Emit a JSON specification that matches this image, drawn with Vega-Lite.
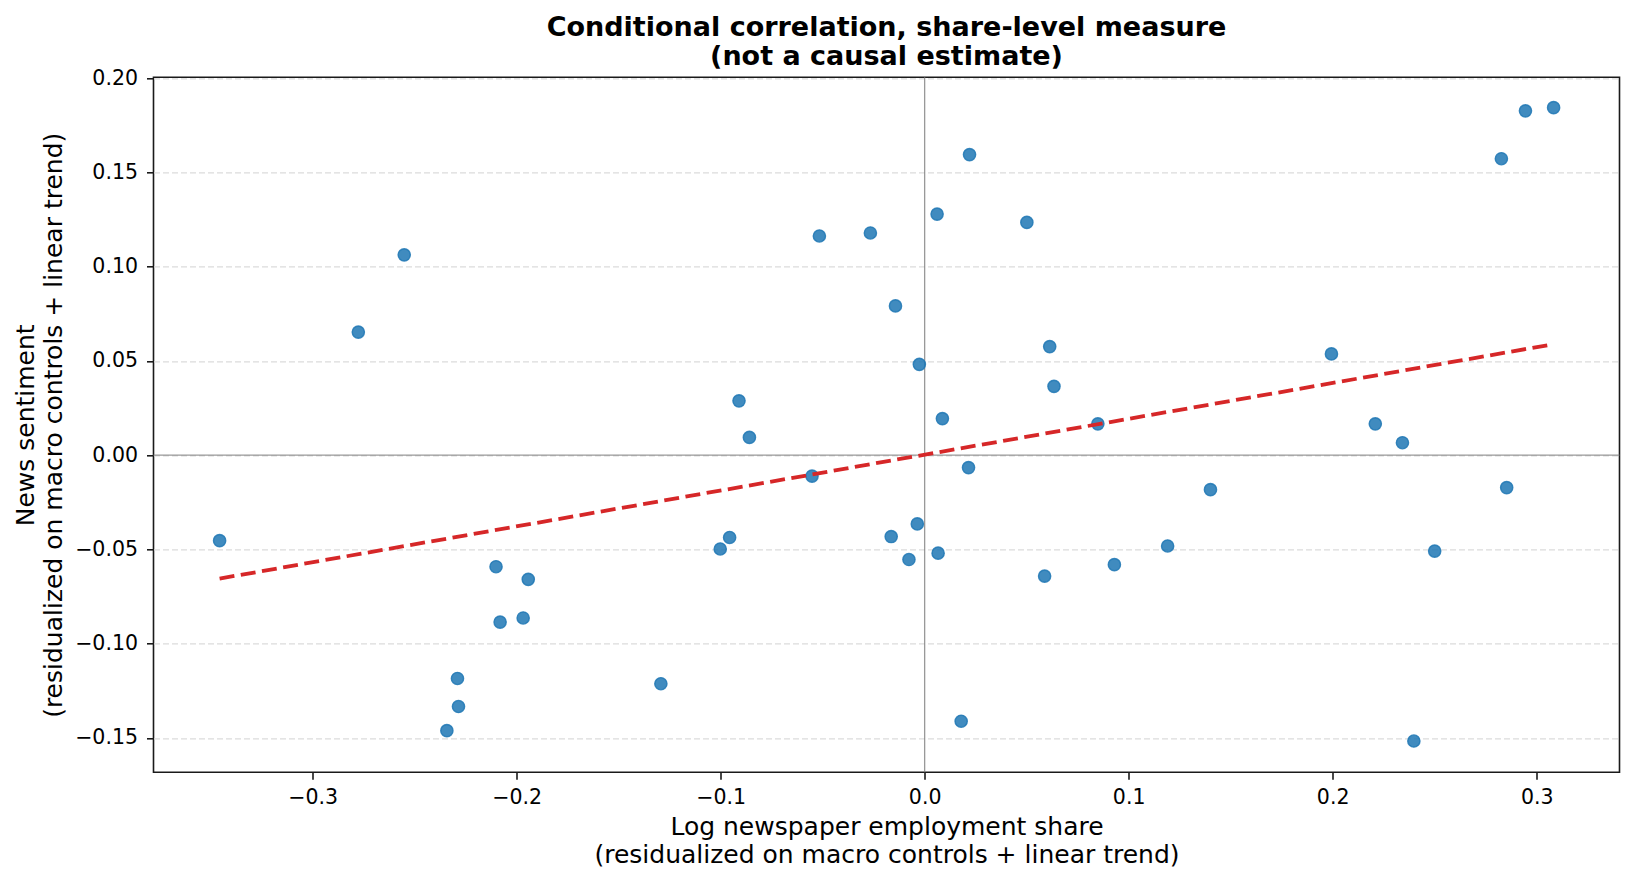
{
  "$schema": "https://vega.github.io/schema/vega-lite/v6.json",
  "width": 1466,
  "height": 695,
  "autosize": {"type": "none"},
  "padding": {"left": 153.5, "top": 77.3, "right": 13.5, "bottom": 109.7},
  "background": "white",
  "title": {
    "text": ["Conditional correlation, share-level measure", "(not a causal estimate)"],
    "font": "DejaVu Sans",
    "fontSize": 27,
    "fontWeight": "bold",
    "color": "black",
    "anchor": "middle",
    "baseline": "top",
    "lineHeight": 29,
    "offset": 1,
    "dy": 4
  },
  "datasets": {
    "points": [
      {"x": -0.3456, "y": -0.0454},
      {"x": -0.2776, "y": 0.0653},
      {"x": -0.2551, "y": 0.1063},
      {"x": -0.2342, "y": -0.1462},
      {"x": -0.2290, "y": -0.1185},
      {"x": -0.2285, "y": -0.1334},
      {"x": -0.2101, "y": -0.0592},
      {"x": -0.2081, "y": -0.0886},
      {"x": -0.1968, "y": -0.0864},
      {"x": -0.1943, "y": -0.0659},
      {"x": -0.1293, "y": -0.1213},
      {"x": -0.1002, "y": -0.0498},
      {"x": -0.0956, "y": -0.0437},
      {"x": -0.0910, "y": 0.0288},
      {"x": -0.0859, "y": 0.0094},
      {"x": -0.0552, "y": -0.0111},
      {"x": -0.0516, "y": 0.1163},
      {"x": -0.0266, "y": 0.1179},
      {"x": -0.0164, "y": -0.0432},
      {"x": -0.0143, "y": 0.0792},
      {"x": -0.0077, "y": -0.0554},
      {"x": -0.0036, "y": -0.0365},
      {"x": -0.0026, "y": 0.0482},
      {"x": 0.0061, "y": 0.1279},
      {"x": 0.0066, "y": -0.0520},
      {"x": 0.0087, "y": 0.0194},
      {"x": 0.0179, "y": -0.1412},
      {"x": 0.0215, "y": -0.0066},
      {"x": 0.0220, "y": 0.1595},
      {"x": 0.0501, "y": 0.1235},
      {"x": 0.0588, "y": -0.0642},
      {"x": 0.0613, "y": 0.0576},
      {"x": 0.0634, "y": 0.0365},
      {"x": 0.0849, "y": 0.0166},
      {"x": 0.0930, "y": -0.0581},
      {"x": 0.1191, "y": -0.0482},
      {"x": 0.1401, "y": -0.0183},
      {"x": 0.1994, "y": 0.0537},
      {"x": 0.2209, "y": 0.0166},
      {"x": 0.2342, "y": 0.0066},
      {"x": 0.2398, "y": -0.1517},
      {"x": 0.2500, "y": -0.0509},
      {"x": 0.2827, "y": 0.1573},
      {"x": 0.2853, "y": -0.0172},
      {"x": 0.2945, "y": 0.1827},
      {"x": 0.3083, "y": 0.1844}
    ],
    "fit": [
      {"x": -0.3456, "y": -0.0655},
      {"x": 0.3083, "y": 0.0589}
    ],
    "zero": [
      {"v": 0}
    ]
  },
  "layer": [
    {
      "data": {"name": "zero"},
      "mark": {"type": "rule", "color": "#808080", "strokeWidth": 1.3, "opacity": 0.8},
      "encoding": {
        "x": {"field": "v", "type": "quantitative", "scale": {"domain": [-0.378, 0.3406], "nice": false, "zero": false}}
      }
    },
    {
      "data": {"name": "zero"},
      "mark": {"type": "rule", "color": "#808080", "strokeWidth": 1.3, "opacity": 0.8},
      "encoding": {
        "y": {"field": "v", "type": "quantitative", "scale": {"domain": [-0.1683, 0.2005], "nice": false, "zero": false}}
      }
    },
    {
      "data": {"name": "points"},
      "mark": {
        "type": "circle",
        "size": 150,
        "fill": "#1f77b4",
        "fillOpacity": 0.85,
        "stroke": "#1f77b4",
        "strokeOpacity": 0.85,
        "strokeWidth": 1.4
      },
      "encoding": {
        "x": {
          "field": "x",
          "type": "quantitative",
          "scale": {"domain": [-0.378, 0.3406], "nice": false, "zero": false},
          "axis": {
            "title": ["Log newspaper employment share", "(residualized on macro controls + linear trend)"],
            "values": [-0.3, -0.2, -0.1, 0, 0.1, 0.2, 0.3],
            "format": ".1f",
            "grid": false,
            "labelPadding": 8,
            "titleBaseline": "top",
            "titleX": 733,
            "titleY": 42,
            "titleLineHeight": 28
          }
        },
        "y": {
          "field": "y",
          "type": "quantitative",
          "scale": {"domain": [-0.1683, 0.2005], "nice": false, "zero": false},
          "axis": {
            "title": ["News sentiment", "(residualized on macro controls + linear trend)"],
            "values": [-0.15, -0.1, -0.05, 0, 0.05, 0.1, 0.15, 0.2],
            "format": ".2f",
            "grid": true,
            "gridDash": [6, 3],
            "gridColor": "#dcdcdc",
            "gridWidth": 1.3,
            "labelPadding": 9,
            "titleAngle": -90,
            "titleBaseline": "top",
            "titleAlign": "center",
            "titleX": -140,
            "titleY": 347.5,
            "titleLineHeight": 27.5
          }
        }
      }
    },
    {
      "data": {"name": "fit"},
      "mark": {"type": "line", "color": "#d62728", "strokeWidth": 3.8, "strokeDash": [15, 6.5]},
      "encoding": {
        "x": {"field": "x", "type": "quantitative"},
        "y": {"field": "y", "type": "quantitative"}
      }
    }
  ],
  "config": {
    "font": "DejaVu Sans",
    "view": {"stroke": "#1a1a1a", "strokeWidth": 1.6},
    "axis": {
      "domain": false,
      "ticks": true,
      "tickColor": "#1a1a1a",
      "tickWidth": 1.6,
      "tickSize": 7,
      "labelFont": "DejaVu Sans",
      "labelFontSize": 20.5,
      "labelColor": "black",
      "titleFont": "DejaVu Sans",
      "titleFontSize": 25,
      "titleFontWeight": "normal",
      "titleColor": "black"
    }
  }
}
